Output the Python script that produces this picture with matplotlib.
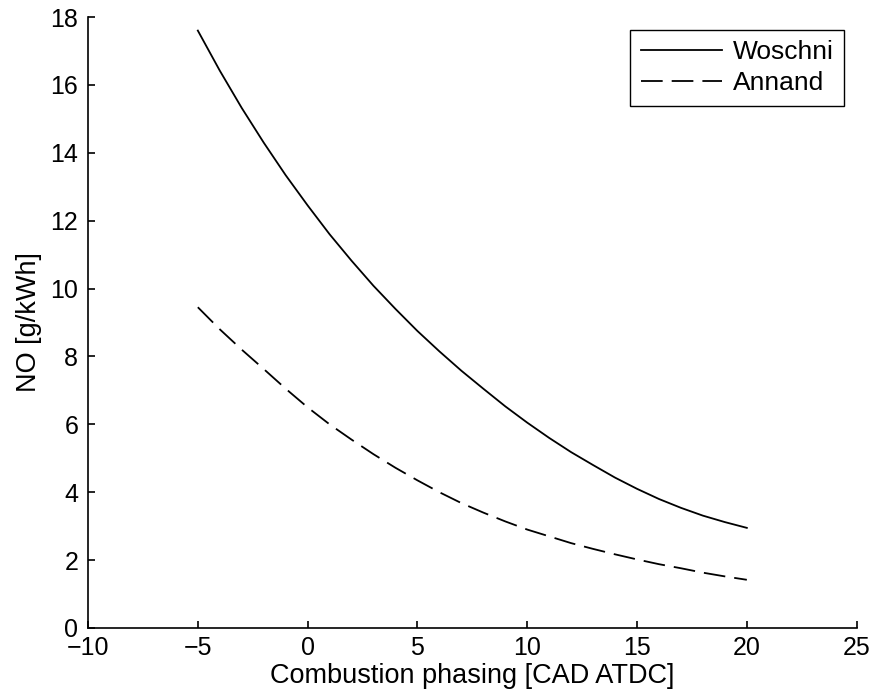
import numpy as np
import matplotlib
matplotlib.use("Agg")
import matplotlib.pyplot as plt

# values (one per CAD step)
phasing = list(range(-5, 21))
no_woschni = [17.6, 16.42, 15.32, 14.3, 13.34, 12.45, 11.6, 10.82, 10.08, 9.4,
              8.75, 8.15, 7.58, 7.05, 6.53, 6.05, 5.6, 5.18, 4.8, 4.43,
              4.1, 3.8, 3.54, 3.31, 3.12, 2.95]
no_annand = [9.45, 8.8, 8.2, 7.63, 7.05, 6.5, 6.0, 5.55, 5.12, 4.72,
             4.35, 4.0, 3.68, 3.4, 3.14, 2.9, 2.7, 2.5, 2.33, 2.17,
             2.02, 1.88, 1.76, 1.63, 1.52, 1.42]

xticks = [-10, -5, 0, 5, 10, 15, 20, 25]
yticks = [0, 2, 4, 6, 8, 10, 12, 14, 16, 18]

plt.rcParams['font.family'] = ['Liberation Sans', 'DejaVu Sans']

fig = plt.figure(figsize=(8.75, 6.97), dpi=100)
ax = fig.add_axes([0.1006, 0.099, 0.8784, 0.8766])

ax.plot(phasing, no_woschni, color='black', lw=1.3, label='Woschni')
ax.plot(phasing, no_annand, color='black', lw=1.3, linestyle=(0, (12, 5)), label='Annand')

ax.set_xlim(-10, 25)
ax.set_ylim(0, 18)
ax.set_xticks(xticks)
ax.set_yticks(yticks)
ax.tick_params(direction='in', length=5, width=1.2, labelsize=18)
ax.tick_params(axis='x', pad=6)
ax.tick_params(axis='y', pad=7)
for side in ['top', 'right']:
    ax.spines[side].set_visible(False)
for side in ['left', 'bottom']:
    ax.spines[side].set_linewidth(1.2)

ax.set_xlabel('Combustion phasing [CAD ATDC]', fontsize=19.5, labelpad=2)
ax.set_ylabel('NO [g/kWh]', fontsize=19.5, labelpad=6)

leg = ax.legend(loc='upper right', fontsize=19, handlelength=3.1, fancybox=False,
                framealpha=1, edgecolor='black', borderpad=0.4, labelspacing=0.25,
                handletextpad=0.4, borderaxespad=0, bbox_to_anchor=(0.984, 0.979))
leg.get_frame().set_linewidth(1.0)

fig.savefig('out.png', dpi=100)
